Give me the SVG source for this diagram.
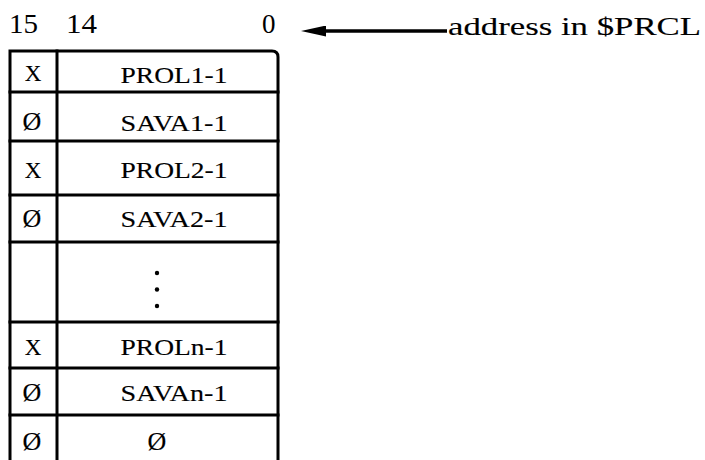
<svg xmlns="http://www.w3.org/2000/svg" width="705" height="460" viewBox="0 0 705 460">
<defs>
<marker id="ah" viewBox="0 0 25 11" refX="0" refY="5.5" markerWidth="25" markerHeight="11" markerUnits="userSpaceOnUse" orient="auto">
<path d="M0,0 L25,5.5 L0,11 Z" fill="#000"/>
</marker>
</defs>
<style>
.t{font-family:"Liberation Serif","DejaVu Serif",serif;font-size:23px;fill:#000;stroke:#000;stroke-width:0.12}
.z{font-size:26px}
.h{font-family:"Liberation Serif","DejaVu Serif",serif;font-size:27px;fill:#000}
.c{text-anchor:middle}
.ln{stroke:#000;stroke-width:3;fill:none;stroke-linecap:square}
.cn{stroke:#000;stroke-width:3.5;fill:none}
</style>
<rect width="705" height="460" fill="#fff"/>
<g id="header">
<text class="h" x="9" y="33" textLength="29" lengthAdjust="spacingAndGlyphs">15</text>
<text class="h" x="66" y="33" textLength="31" lengthAdjust="spacingAndGlyphs">14</text>
<text class="h" x="262" y="33">0</text>
<text class="t" x="448" y="35" style="font-size:25px" textLength="253" lengthAdjust="spacingAndGlyphs">address in $PRCL</text>
</g>
<g id="table-frame">
<path class="ln" d="M10,460 V51 H272 Q278,51 278,57 V460"/>
<line class="ln" x1="57" y1="51" x2="57" y2="460"/>
</g>
<g id="row-prol1">
<line class="ln" x1="10" y1="92" x2="278" y2="92"/>
<text class="t c" x="33" y="81">X</text>
<text class="t c" x="174" y="83" textLength="107" lengthAdjust="spacingAndGlyphs">PROL1-1</text>
</g>
<g id="row-sava1">
<line class="ln" x1="10" y1="141" x2="278" y2="141"/>
<text class="t c z" x="32" y="130">Ø</text>
<text class="t c" x="174" y="131" textLength="107" lengthAdjust="spacingAndGlyphs">SAVA1-1</text>
</g>
<g id="row-prol2">
<line class="ln" x1="10" y1="195" x2="278" y2="195"/>
<text class="t c" x="33" y="178">X</text>
<text class="t c" x="174" y="178" textLength="107" lengthAdjust="spacingAndGlyphs">PROL2-1</text>
</g>
<g id="row-sava2">
<line class="ln" x1="10" y1="242" x2="278" y2="242"/>
<text class="t c z" x="32" y="227">Ø</text>
<text class="t c" x="174" y="227" textLength="107" lengthAdjust="spacingAndGlyphs">SAVA2-1</text>
</g>
<g id="row-dots">
<line class="ln" x1="10" y1="322" x2="278" y2="322"/>
<circle cx="157" cy="273" r="2.2" fill="#000"/>
<circle cx="157" cy="289.5" r="2.2" fill="#000"/>
<circle cx="157" cy="306" r="2.2" fill="#000"/>
</g>
<g id="row-proln">
<line class="ln" x1="10" y1="368" x2="278" y2="368"/>
<text class="t c" x="33" y="355">X</text>
<text class="t c" x="174" y="355" textLength="107" lengthAdjust="spacingAndGlyphs">PROLn-1</text>
</g>
<g id="row-savan">
<line class="ln" x1="10" y1="415" x2="278" y2="415"/>
<text class="t c z" x="32" y="401">Ø</text>
<text class="t c" x="174" y="401" textLength="107" lengthAdjust="spacingAndGlyphs">SAVAn-1</text>
</g>
<g id="row-last">
<text class="t c z" x="32" y="450">Ø</text>
<text class="t c z" x="157" y="450">Ø</text>
</g>
<g id="connectors">
<line class="cn" x1="447" y1="31" x2="326" y2="31" marker-end="url(#ah)"/>
</g>
</svg>
